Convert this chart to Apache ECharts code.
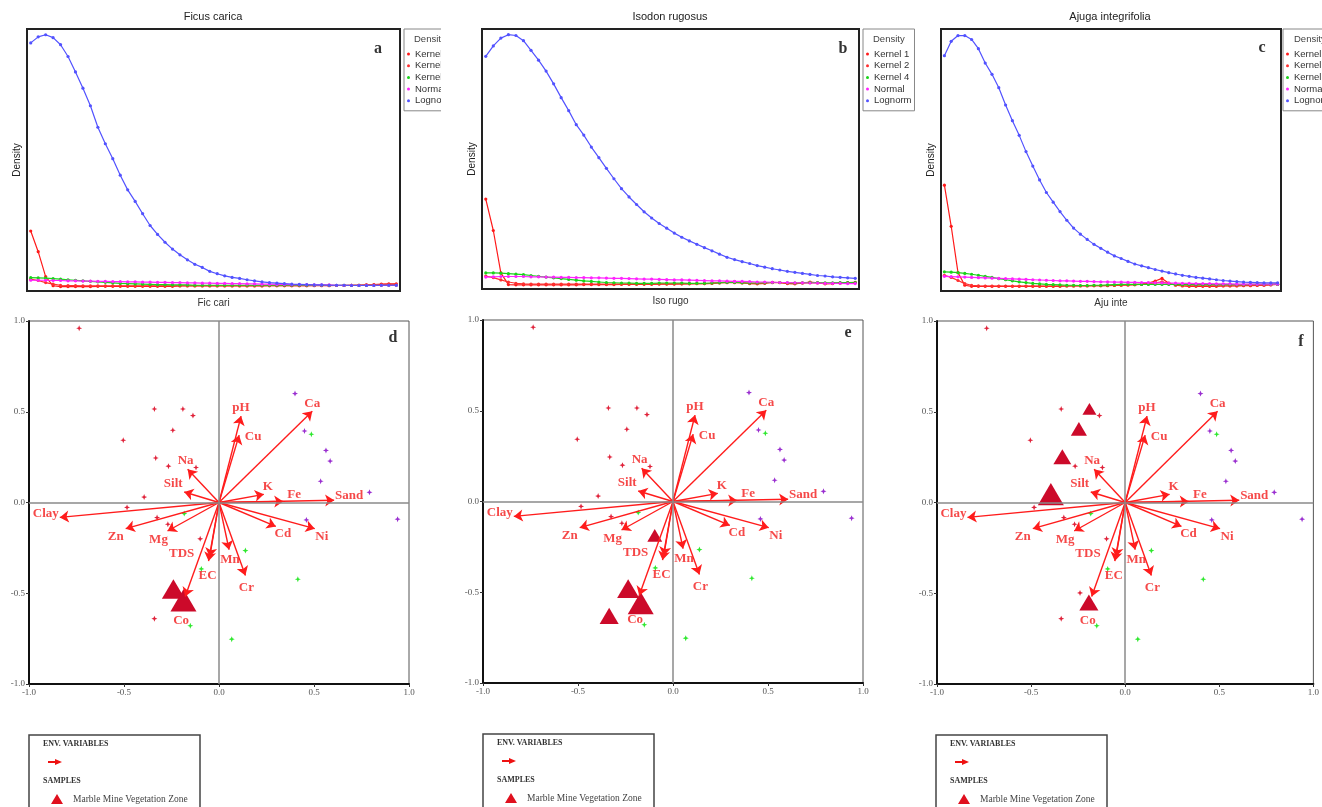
<!DOCTYPE html>
<html><head><meta charset="utf-8">
<script src="https://cdn.jsdelivr.net/npm/echarts@6.0.0/dist/echarts.min.js"></script>
<style>html,body{margin:0;padding:0;background:#fff}#c{width:1322px;height:807px}</style>
</head><body><div id="c"></div><script>
// ---------- DATA ----------
const panelTitles = ['Ficus carica','Isodon rugosus','Ajuga integrifolia'];
const panelXNames = ['Fic cari','Iso rugo','Aju inte'];
const densityLegendTitle = 'Density';
const densityNames = ['Kernel 1','Kernel 2','Kernel 4','Normal','Lognorm'];
const panelLetters = ['a','b','c','d','e','f'];

// Panel a (Ficus carica)
const k1A = [0.229,0.150,0.055,0.020,0.017,0.017,0.017,0.017,0.017,0.018,0.018,0.018,0.018,0.018,0.018,0.018,0.018,0.018,0.018,0.018,0.019,0.019,0.019,0.019,0.019,0.019,0.019,0.019,0.019,0.019,0.019,0.019,0.020,0.020,0.020,0.020,0.020,0.020,0.020,0.020,0.020,0.021,0.021,0.022,0.022,0.023,0.024,0.026,0.027,0.027];
const k2A = [0.045,0.040,0.032,0.026,0.022,0.021,0.021,0.020,0.020,0.020,0.020,0.020,0.020,0.020,0.020,0.020,0.020,0.020,0.020,0.020,0.020,0.020,0.020,0.020,0.020,0.020,0.020,0.020,0.020,0.020,0.020,0.020,0.020,0.020,0.020,0.020,0.020,0.020,0.021,0.021,0.021,0.021,0.021,0.022,0.022,0.023,0.023,0.024,0.025,0.025];
const k4A = [0.051,0.050,0.049,0.047,0.045,0.043,0.041,0.039,0.037,0.035,0.033,0.031,0.029,0.028,0.027,0.026,0.025,0.024,0.024,0.023,0.023,0.023,0.022,0.022,0.022,0.022,0.022,0.022,0.022,0.022,0.022,0.022,0.022,0.022,0.022,0.022,0.022,0.022,0.022,0.022,0.022,0.022,0.022,0.022,0.022,0.022,0.022,0.022,0.022,0.022];
const normA = [0.041,0.041,0.041,0.040,0.040,0.039,0.039,0.038,0.038,0.037,0.037,0.036,0.036,0.035,0.035,0.034,0.034,0.033,0.033,0.032,0.032,0.031,0.031,0.030,0.030,0.029,0.029,0.028,0.028,0.027,0.027,0.026,0.026,0.025,0.025,0.024,0.024,0.024,0.023,0.023,0.023,0.022,0.022,0.022,0.022,0.022,0.022,0.022,0.022,0.022];
const lognA = [0.947,0.970,0.978,0.967,0.940,0.895,0.836,0.774,0.707,0.625,0.562,0.505,0.442,0.386,0.342,0.295,0.250,0.216,0.186,0.160,0.138,0.119,0.102,0.090,0.075,0.066,0.058,0.052,0.048,0.043,0.039,0.035,0.032,0.030,0.028,0.026,0.025,0.024,0.023,0.023,0.022,0.022,0.022,0.021,0.021,0.021,0.021,0.022,0.022,0.022];

// Panel b (Isodon rugosus)
const k1B = [0.346,0.225,0.062,0.017,0.016,0.016,0.016,0.016,0.016,0.016,0.016,0.016,0.016,0.017,0.017,0.017,0.017,0.017,0.018,0.018,0.018,0.018,0.018,0.019,0.019,0.019,0.020,0.020,0.021,0.021,0.022,0.024,0.027,0.028,0.024,0.021,0.020,0.022,0.026,0.025,0.021,0.020,0.023,0.027,0.024,0.020,0.021,0.023,0.025,0.026];
const k2B = [0.050,0.044,0.035,0.027,0.022,0.020,0.019,0.019,0.019,0.019,0.019,0.019,0.019,0.019,0.019,0.019,0.019,0.019,0.019,0.019,0.019,0.020,0.020,0.020,0.020,0.020,0.020,0.021,0.021,0.021,0.022,0.023,0.024,0.024,0.023,0.022,0.022,0.023,0.024,0.024,0.022,0.022,0.023,0.024,0.023,0.022,0.022,0.023,0.024,0.024];
const k4B = [0.062,0.062,0.061,0.059,0.057,0.055,0.052,0.049,0.046,0.043,0.040,0.037,0.034,0.031,0.029,0.027,0.025,0.024,0.023,0.023,0.022,0.022,0.022,0.023,0.023,0.023,0.023,0.022,0.022,0.022,0.023,0.024,0.025,0.025,0.024,0.023,0.023,0.024,0.025,0.025,0.024,0.023,0.024,0.025,0.025,0.024,0.024,0.025,0.025,0.025];
const normB = [0.046,0.047,0.048,0.048,0.048,0.048,0.047,0.047,0.046,0.046,0.045,0.045,0.044,0.044,0.043,0.043,0.042,0.041,0.041,0.040,0.039,0.038,0.038,0.037,0.036,0.035,0.035,0.034,0.033,0.032,0.031,0.031,0.030,0.029,0.029,0.028,0.027,0.027,0.026,0.025,0.025,0.024,0.024,0.023,0.023,0.022,0.022,0.022,0.021,0.021];
const lognB = [0.895,0.935,0.965,0.978,0.975,0.955,0.918,0.880,0.838,0.789,0.736,0.686,0.632,0.592,0.546,0.505,0.464,0.424,0.386,0.354,0.325,0.297,0.273,0.252,0.234,0.215,0.199,0.185,0.172,0.159,0.147,0.134,0.122,0.113,0.105,0.098,0.090,0.084,0.078,0.073,0.068,0.064,0.060,0.056,0.052,0.050,0.047,0.045,0.043,0.041];

// Panel c (Ajuga integrifolia)
const k1C = [0.404,0.247,0.070,0.022,0.018,0.018,0.018,0.018,0.018,0.018,0.018,0.018,0.018,0.018,0.018,0.018,0.018,0.018,0.019,0.019,0.019,0.019,0.020,0.020,0.020,0.021,0.022,0.023,0.024,0.026,0.030,0.038,0.048,0.030,0.022,0.019,0.018,0.018,0.018,0.018,0.018,0.019,0.019,0.019,0.020,0.020,0.021,0.022,0.024,0.028];
const k2C = [0.060,0.052,0.040,0.028,0.022,0.020,0.019,0.019,0.019,0.019,0.019,0.019,0.019,0.019,0.019,0.019,0.019,0.019,0.019,0.019,0.020,0.020,0.020,0.020,0.021,0.021,0.022,0.023,0.024,0.025,0.027,0.031,0.035,0.028,0.023,0.021,0.020,0.020,0.020,0.020,0.020,0.020,0.020,0.020,0.021,0.021,0.022,0.022,0.023,0.025];
const k4C = [0.073,0.072,0.070,0.067,0.064,0.060,0.056,0.052,0.047,0.043,0.039,0.035,0.032,0.029,0.027,0.025,0.024,0.023,0.022,0.022,0.021,0.021,0.022,0.022,0.023,0.024,0.025,0.025,0.025,0.025,0.025,0.025,0.025,0.025,0.025,0.024,0.024,0.024,0.024,0.024,0.024,0.024,0.024,0.024,0.024,0.025,0.025,0.025,0.025,0.025];
const normC = [0.056,0.055,0.054,0.053,0.052,0.051,0.050,0.049,0.048,0.047,0.046,0.045,0.044,0.043,0.042,0.041,0.040,0.039,0.039,0.038,0.037,0.037,0.036,0.035,0.035,0.034,0.034,0.033,0.033,0.032,0.032,0.031,0.031,0.030,0.030,0.029,0.029,0.028,0.028,0.028,0.027,0.027,0.027,0.026,0.026,0.026,0.026,0.026,0.026,0.026];
const lognC = [0.898,0.953,0.975,0.975,0.960,0.925,0.870,0.827,0.776,0.710,0.650,0.594,0.532,0.477,0.424,0.376,0.339,0.303,0.270,0.240,0.217,0.197,0.178,0.163,0.148,0.134,0.124,0.113,0.103,0.096,0.089,0.082,0.076,0.070,0.065,0.060,0.056,0.052,0.049,0.046,0.043,0.040,0.038,0.036,0.034,0.033,0.032,0.031,0.031,0.031];

// Biplot: environmental variable vectors (same in all panels)
const envNames = ['pH','Cu','Ca','Na','Silt','K','Fe','Sand','Clay','Zn','Mg','Cd','Ni','TDS','EC','Mn','Cr','Co'];
const envX = [0.116,0.106,0.491,-0.165,-0.183,0.236,0.338,0.606,-0.838,-0.491,-0.271,0.299,0.504,-0.049,-0.055,0.053,0.139,-0.178];
const envY = [0.476,0.371,0.503,0.183,0.058,0.045,0.006,0.012,-0.082,-0.144,-0.157,-0.132,-0.144,-0.300,-0.323,-0.260,-0.402,-0.518];

// Biplot: species points
const redPtsX = [-0.736,-0.340,-0.190,-0.137,-0.243,-0.504,-0.333,-0.266,-0.121,-0.394,-0.484,-0.326,-0.269,-0.099,-0.340,-0.240];
const redPtsY = [0.960,0.515,0.515,0.479,0.398,0.343,0.245,0.200,0.193,0.030,-0.027,-0.083,-0.120,-0.200,-0.640,-0.498];
const purplePtsX = [0.400,0.450,0.563,0.585,0.535,0.792,0.940,0.460];
const purplePtsY = [0.600,0.394,0.287,0.228,0.117,0.056,-0.092,-0.096];
const greenPtsX = [0.486,-0.183,0.139,-0.093,0.415,-0.151,0.067];
const greenPtsY = [0.376,-0.061,-0.265,-0.366,-0.423,-0.679,-0.753];

// Biplot: samples (Marble Mine Vegetation Zone), x, y, relative abundance
const sampD_x = [-0.240,-0.187];
const sampD_y = [-0.477,-0.539];
const sampD_ab = [5.0,6.0];
const sampE_x = [-0.096,-0.236,-0.170,-0.336];
const sampE_y = [-0.187,-0.480,-0.560,-0.630];
const sampE_ab = [2.3,4.7,6.0,3.7];
const sampF_x = [-0.190,-0.246,-0.334,-0.395,-0.193];
const sampF_y = [0.516,0.406,0.252,0.046,-0.551];
const sampF_ab = [2.0,2.7,3.3,6.0,3.7];

const legendEnvTitle = 'ENV. VARIABLES';
const legendSampTitle = 'SAMPLES';
const legendZone = 'Marble Mine Vegetation Zone';

// ---------- STYLE / LAYOUT ----------
const densColors = ['#ff1a1a','#ff3030','#19d419','#ff22ff','#5252ff'];
const densGrids = [
  {left:27, top:29, width:373, height:262},
  {left:482, top:29, width:377, height:260},
  {left:941, top:29, width:340, height:262}
];
const biGrids = [
  {left:29, top:321, width:380, height:363},
  {left:483, top:320, width:380, height:363},
  {left:937, top:321, width:379, height:363}
];
const legendLefts = [404, 863, 1283];
const legendHeaderX = [414, 873, 1294];
const titleX = [213, 670, 1110];
const letterPos = [[378,49],[843,49],[1262,48],[393,338],[848,333],[1301,342]];
const bottomLegendPos = [[29,735],[483,734],[936,735]];
const labelOffset = {pH:[0,-8],Cu:[14,1],Ca:[0,-8],Na:[-2,-9],Silt:[-11,-8],K:[4,-8],Fe:[11,-7],Sand:[15,-5],Clay:[-14,-4],Zn:[-10,8],Mg:[-9,9],Cd:[7,7],Ni:[7,8],TDS:[-28,-3],EC:[-1,15],Mn:[1,10],Cr:[1,12],Co:[-4,24]};
const SERIF = 'Liberation Serif';
const SANS = 'Liberation Sans';
const arrowRed = '#ff1c1c';
const triRed = '#cc0a2a';
const starPath = 'path://M0,-5L1.4,-1.4L5,0L1.4,1.4L0,5L-1.4,1.4L-5,0L-1.4,-1.4Z';

const densData = [[k1A,k2A,k4A,normA,lognA],[k1B,k2B,k4B,normB,lognB],[k1C,k2C,k4C,normC,lognC]];
const samples = [[sampD_x,sampD_y,sampD_ab],[sampE_x,sampE_y,sampE_ab],[sampF_x,sampF_y,sampF_ab]];

const grid = [], xAxis = [], yAxis = [], series = [], legend = [], graphic = [];

for (let p = 0; p < 3; p++) {
  grid.push(Object.assign({show:true, borderColor:'#222', borderWidth:2, backgroundColor:'#fff'}, densGrids[p]));
  xAxis.push({type:'value', gridIndex:p, min:-0.5, max:49.5, axisLine:{show:false}, axisTick:{show:false}, axisLabel:{show:false}, splitLine:{show:false},
    name: panelXNames[p], nameLocation:'middle', nameGap:7, nameTextStyle:{fontFamily:SANS, fontSize:10, color:'#333'}});
  yAxis.push({type:'value', gridIndex:p, min:0, max:1, axisLine:{show:false}, axisTick:{show:false}, axisLabel:{show:false}, splitLine:{show:false},
    name: 'Density', nameLocation:'middle', nameGap:5, nameTextStyle:{fontFamily:SANS, fontSize:10, color:'#222'}});
  for (let s = 0; s < 5; s++) {
    series.push({type:'line', name: densityNames[s], xAxisIndex:p, yAxisIndex:p,
      data: densData[p][s].map((v,i)=>[i,v]), symbol:'circle', symbolSize:3.2, showSymbol:true,
      lineStyle:{width:1.2, color:densColors[s]}, itemStyle:{color:densColors[s]}, animation:false, silent:true});
  }
  legend.push({data: densityNames, orient:'vertical', left: legendLefts[p], top:29, icon:'circle', itemWidth:3, itemHeight:3,
    itemGap:1.7, padding:[20,3,5,3], borderColor:'#888', borderWidth:1, selectedMode:false,
    textStyle:{fontSize:9.5, fontFamily:SANS, color:'#333'}});
  graphic.push({type:'text', z:50, style:{text: densityLegendTitle, x: legendHeaderX[p], y:39, textVerticalAlign:'middle', font:'9.5px '+SANS, fill:'#444'}});
  graphic.push({type:'text', z:50, style:{text: panelTitles[p], x: titleX[p], y:17, textAlign:'center', textVerticalAlign:'middle', font:'11px '+SANS, fill:'#222'}});
}

for (let p = 0; p < 3; p++) {
  const gi = p + 3;
  grid.push(Object.assign({show:true, borderColor:'#555', borderWidth:1}, biGrids[p]));
  const axCommon = {type:'value', gridIndex:gi, min:-1, max:1, interval:0.5, splitLine:{show:false},
    axisLine:{show:true, onZero:false, lineStyle:{color:'#111', width:2}},
    axisTick:{show:true, length:3, lineStyle:{color:'#333'}},
    axisLabel:{formatter:v=>v.toFixed(1), fontFamily:SERIF, fontSize:9, color:'#555', margin:4}};
  xAxis.push(Object.assign({}, axCommon));
  yAxis.push(Object.assign({}, axCommon));
  // species points with zero lines
  series.push({type:'scatter', xAxisIndex:gi, yAxisIndex:gi, symbol:starPath, symbolSize:6, itemStyle:{color:'#e0223a', opacity:1},
    data: redPtsX.map((x,i)=>[x, redPtsY[i]]), silent:true, animation:false, z:2,
    markLine:{silent:true, symbol:'none', label:{show:false}, animation:false, lineStyle:{color:'#8a8a8a', width:1.5, type:'solid'}, data:[{xAxis:0},{yAxis:0}]}});
  series.push({type:'scatter', xAxisIndex:gi, yAxisIndex:gi, symbol:starPath, symbolSize:6, itemStyle:{color:'#9a2fd0', opacity:1},
    data: purplePtsX.map((x,i)=>[x, purplePtsY[i]]), silent:true, animation:false, z:2});
  series.push({type:'scatter', xAxisIndex:gi, yAxisIndex:gi, symbol:starPath, symbolSize:6, itemStyle:{color:'#2ee82e', opacity:1},
    data: greenPtsX.map((x,i)=>[x, greenPtsY[i]]), silent:true, animation:false, z:2});
  // samples
  const sm = samples[p];
  series.push({type:'scatter', xAxisIndex:gi, yAxisIndex:gi, symbol:'triangle',
    symbolSize: d => { const w = 8 + 3*d[2]; return [w, w*0.85]; },
    itemStyle:{color:triRed, opacity:1}, data: sm[0].map((x,i)=>[x, sm[1][i], sm[2][i]]), silent:true, animation:false, z:3});
  // env arrows
  series.push({type:'lines', coordinateSystem:'cartesian2d', xAxisIndex:gi, yAxisIndex:gi, symbol:['none','arrow'], symbolSize:9,
    lineStyle:{color:arrowRed, width:1.4, opacity:1}, silent:true, animation:false, z:4,
    data: envNames.map((n,i)=>({name:n, coords:[[0,0],[envX[i], envY[i]]]}))});
  // env labels
  series.push({type:'scatter', xAxisIndex:gi, yAxisIndex:gi, symbolSize:1, itemStyle:{color:'rgba(0,0,0,0)'}, silent:true, animation:false, z:5,
    data: envNames.map((n,i)=>({value:[envX[i], envY[i]], name:n, label:{offset: labelOffset[n]}})),
    label:{show:true, position:'inside', formatter: p2 => p2.name, fontFamily:SERIF, fontWeight:'bold', fontSize:13, color:'#f21a1a'}});

  // bottom legend box
  const [bx, by] = bottomLegendPos[p];
  graphic.push({type:'rect', z:50, shape:{x:bx, y:by, width:171, height:80}, style:{fill:'#fff', stroke:'#444', lineWidth:1.5}});
  graphic.push({type:'text', z:51, style:{text:legendEnvTitle, x:bx+14, y:by+9, textVerticalAlign:'middle', font:'bold 8px '+SERIF, fill:'#333'}});
  graphic.push({type:'line', z:51, shape:{x1:bx+19, y1:by+27, x2:bx+28, y2:by+27}, style:{stroke:'#ee1111', lineWidth:2}});
  graphic.push({type:'polygon', z:51, shape:{points:[[bx+26,by+24],[bx+33,by+27],[bx+26,by+30]]}, style:{fill:'#ee1111'}});
  graphic.push({type:'text', z:51, style:{text:legendSampTitle, x:bx+14, y:by+46, textVerticalAlign:'middle', font:'bold 8px '+SERIF, fill:'#333'}});
  graphic.push({type:'polygon', z:51, shape:{points:[[bx+22,by+69],[bx+28,by+59],[bx+34,by+69]]}, style:{fill:'#e0101e'}});
  graphic.push({type:'text', z:51, style:{text:legendZone, x:bx+44, y:by+64, textVerticalAlign:'middle', font:'9.5px '+SERIF, fill:'#444'}});
}

// panel letters
for (let i = 0; i < 6; i++) {
  graphic.push({type:'text', z:50, style:{text: panelLetters[i], x: letterPos[i][0], y: letterPos[i][1], textAlign:'center', textVerticalAlign:'middle', font:'bold 16px '+SERIF, fill:'#333'}});
}
// clip first density legend where panel b starts
graphic.push({type:'rect', z:100, shape:{x:441, y:24, width:22, height:95}, style:{fill:'#fff'}});

const chart = echarts.init(document.getElementById('c'));
chart.setOption({animation:false, backgroundColor:'#fff', grid, xAxis, yAxis, series, legend, graphic});
</script></body></html>
